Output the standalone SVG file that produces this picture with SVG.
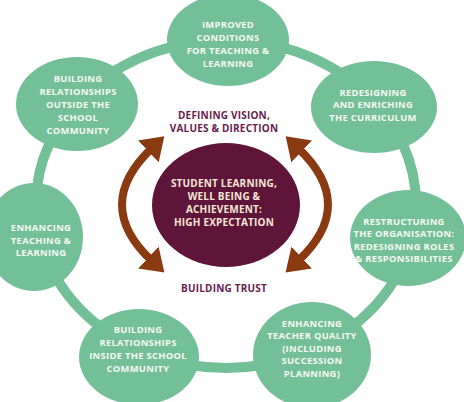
<svg xmlns="http://www.w3.org/2000/svg" width="464" height="402" viewBox="0 0 464 402">
<style>
.node{fill:#73bf98}
.nt{font-family:"Open Sans","Liberation Sans",sans-serif;font-weight:700;font-size:9.4px;letter-spacing:0.3px;fill:#f7f9f0;text-anchor:middle}
.ct{font-family:"Open Sans","Liberation Sans",sans-serif;font-weight:700;font-size:10px;letter-spacing:0.2px;fill:#f5e8d6;text-anchor:middle}
.lt{font-family:"Open Sans","Liberation Sans",sans-serif;font-weight:700;font-size:10px;letter-spacing:0.2px;fill:#6a1c4c;text-anchor:middle}
.ring{fill:none;stroke:#73bf98;stroke-width:10}
.arr{fill:none;stroke:#8a3a11;stroke-width:8}
</style>
<defs>
<marker id="ah" viewBox="0 0 22 30" refX="5" refY="15" markerWidth="22" markerHeight="30" markerUnits="userSpaceOnUse" orient="auto-start-reverse">
<path d="M0,0 L22,15 L0,30 z" fill="#8a3a11"/>
</marker>
</defs>
<rect width="464" height="402" fill="#ffffff"/>
<g id="connectors">
<ellipse class="ring" cx="226" cy="204" rx="190" ry="164"/>
</g>
<g id="arrows">
<path class="arr" d="M152,148 Q92,205 152,261" marker-start="url(#ah)" marker-end="url(#ah)"/>
<path class="arr" d="M298,148 Q358,205 298,261" marker-start="url(#ah)" marker-end="url(#ah)"/>
</g>
<g id="n-top">
<ellipse class="node" cx="228" cy="40" rx="61" ry="46"/>
<text class="nt" x="228" y="28">IMPROVED</text>
<text class="nt" x="228" y="41">CONDITIONS</text>
<text class="nt" x="228" y="54">FOR TEACHING &amp;</text>
<text class="nt" x="228" y="67">LEARNING</text>
</g>
<g id="n-upper-right">
<ellipse class="node" cx="374" cy="107" rx="63" ry="46"/>
<text class="nt" x="373" y="95.5">REDESIGNING</text>
<text class="nt" x="373" y="108">AND ENRICHING</text>
<text class="nt" x="373" y="120.5">THE CURRICULUM</text>
</g>
<g id="n-right">
<ellipse class="node" cx="408" cy="238" rx="58" ry="48"/>
<text class="nt" x="404" y="224.5">RESTRUCTURING</text>
<text class="nt" x="404" y="237">THE ORGANISATION:</text>
<text class="nt" x="404" y="249.5">REDESIGNING ROLES</text>
<text class="nt" x="404" y="262">&amp; RESPONSIBILITIES</text>
</g>
<g id="n-bottom-right">
<ellipse class="node" cx="312" cy="355" rx="59" ry="53"/>
<text class="nt" x="312" y="326.5">ENHANCING</text>
<text class="nt" x="312" y="339">TEACHER QUALITY</text>
<text class="nt" x="312" y="351.5">(INCLUDING</text>
<text class="nt" x="312" y="364">SUCCESSION</text>
<text class="nt" x="312" y="376.5">PLANNING)</text>
</g>
<g id="n-bottom-left">
<ellipse class="node" cx="139" cy="357" rx="60" ry="48"/>
<text class="nt" x="138" y="332.5">BUILDING</text>
<text class="nt" x="138" y="345.5">RELATIONSHIPS</text>
<text class="nt" x="138" y="358.5">INSIDE THE SCHOOL</text>
<text class="nt" x="138" y="371.5">COMMUNITY</text>
</g>
<g id="n-left">
<ellipse class="node" cx="34" cy="237" rx="49" ry="54"/>
<text class="nt" x="41" y="230.5">ENHANCING</text>
<text class="nt" x="41" y="243.5">TEACHING &amp;</text>
<text class="nt" x="41" y="256">LEARNING</text>
</g>
<g id="n-upper-left">
<ellipse class="node" cx="77" cy="104" rx="61" ry="47"/>
<text class="nt" x="78" y="82">BUILDING</text>
<text class="nt" x="78" y="95">RELATIONSHIPS</text>
<text class="nt" x="78" y="108">OUTSIDE THE</text>
<text class="nt" x="78" y="121">SCHOOL</text>
<text class="nt" x="78" y="134">COMMUNITY</text>
</g>
<g id="n-center">
<ellipse cx="226" cy="205" rx="74" ry="62" fill="#5f1439"/>
<text class="ct" x="224" y="187">STUDENT LEARNING,</text>
<text class="ct" x="224" y="200">WELL BEING &amp;</text>
<text class="ct" x="224" y="213">ACHIEVEMENT:</text>
<text class="ct" x="224" y="226">HIGH EXPECTATION</text>
</g>
<g id="labels">
<text class="lt" x="224" y="118.5">DEFINING VISION,</text>
<text class="lt" x="224" y="132">VALUES &amp; DIRECTION</text>
<text class="lt" x="224" y="291.5">BUILDING TRUST</text>
</g>
</svg>
